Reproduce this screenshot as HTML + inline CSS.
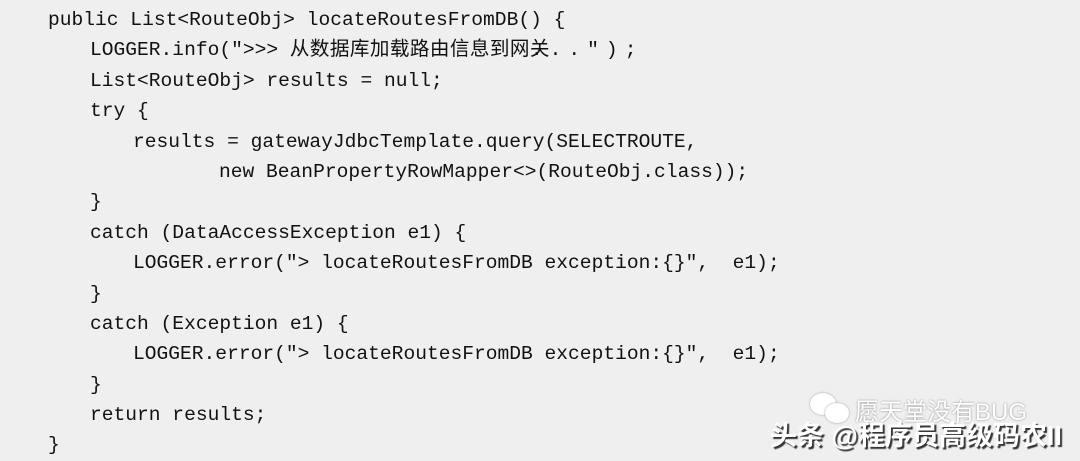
<!DOCTYPE html>
<html><head><meta charset="utf-8"><style>
body{margin:0;width:1080px;height:457px;background:#efefef;overflow:hidden;position:relative}
pre{position:absolute;left:48px;top:5px;margin:0;font:19.6px/30.4px "Liberation Mono","Noto Sans CJK SC",monospace;color:#111;white-space:pre}
.l{display:block;height:30.4px}
.cjk{display:inline-block;width:241px;letter-spacing:0.4px}
.dots{letter-spacing:7px}
.wm1{position:absolute;left:855px;top:392px;font:24px "Liberation Sans","Noto Sans CJK SC",sans-serif;color:#fff;text-shadow:0 0 2px #888}
.wm2{position:absolute;left:770px;top:414px;font:bold 27px "Liberation Sans","Noto Sans CJK SC",sans-serif;color:#fff;text-shadow:2px 2px 1px #333}
.b{position:absolute;background:#fff;border-radius:50%;box-shadow:0 0 2px #999}
</style></head><body>
<pre><span class="l">public List&lt;RouteObj&gt; locateRoutesFromDB() {</span><span class="l" style="padding-left:42px">LOGGER.info("&gt;&gt;&gt; <span class="cjk">从数据库加载路由信息到网关</span><span class="dots">...")</span>;</span><span class="l" style="padding-left:42px">List&lt;RouteObj&gt; results = null;</span><span class="l" style="padding-left:42px">try {</span><span class="l" style="padding-left:85px">results = gatewayJdbcTemplate.query(SELECTROUTE,</span><span class="l" style="padding-left:171px">new BeanPropertyRowMapper&lt;&gt;(RouteObj.class));</span><span class="l" style="padding-left:42px">}</span><span class="l" style="padding-left:42px">catch (DataAccessException e1) {</span><span class="l" style="padding-left:85px">LOGGER.error("&gt; locateRoutesFromDB exception:{}",  e1);</span><span class="l" style="padding-left:42px">}</span><span class="l" style="padding-left:42px">catch (Exception e1) {</span><span class="l" style="padding-left:85px">LOGGER.error("&gt; locateRoutesFromDB exception:{}",  e1);</span><span class="l" style="padding-left:42px">}</span><span class="l" style="padding-left:42px">return results;</span><span class="l">}</span></pre>
<div class="b" style="left:810px;top:393px;width:26px;height:22px"></div>
<div class="b" style="left:825px;top:403px;width:24px;height:20px"></div>
<div class="wm1">愿天堂没有BUG</div>
<div class="wm2">头条 @程序员高级码农II</div>
</body></html>
